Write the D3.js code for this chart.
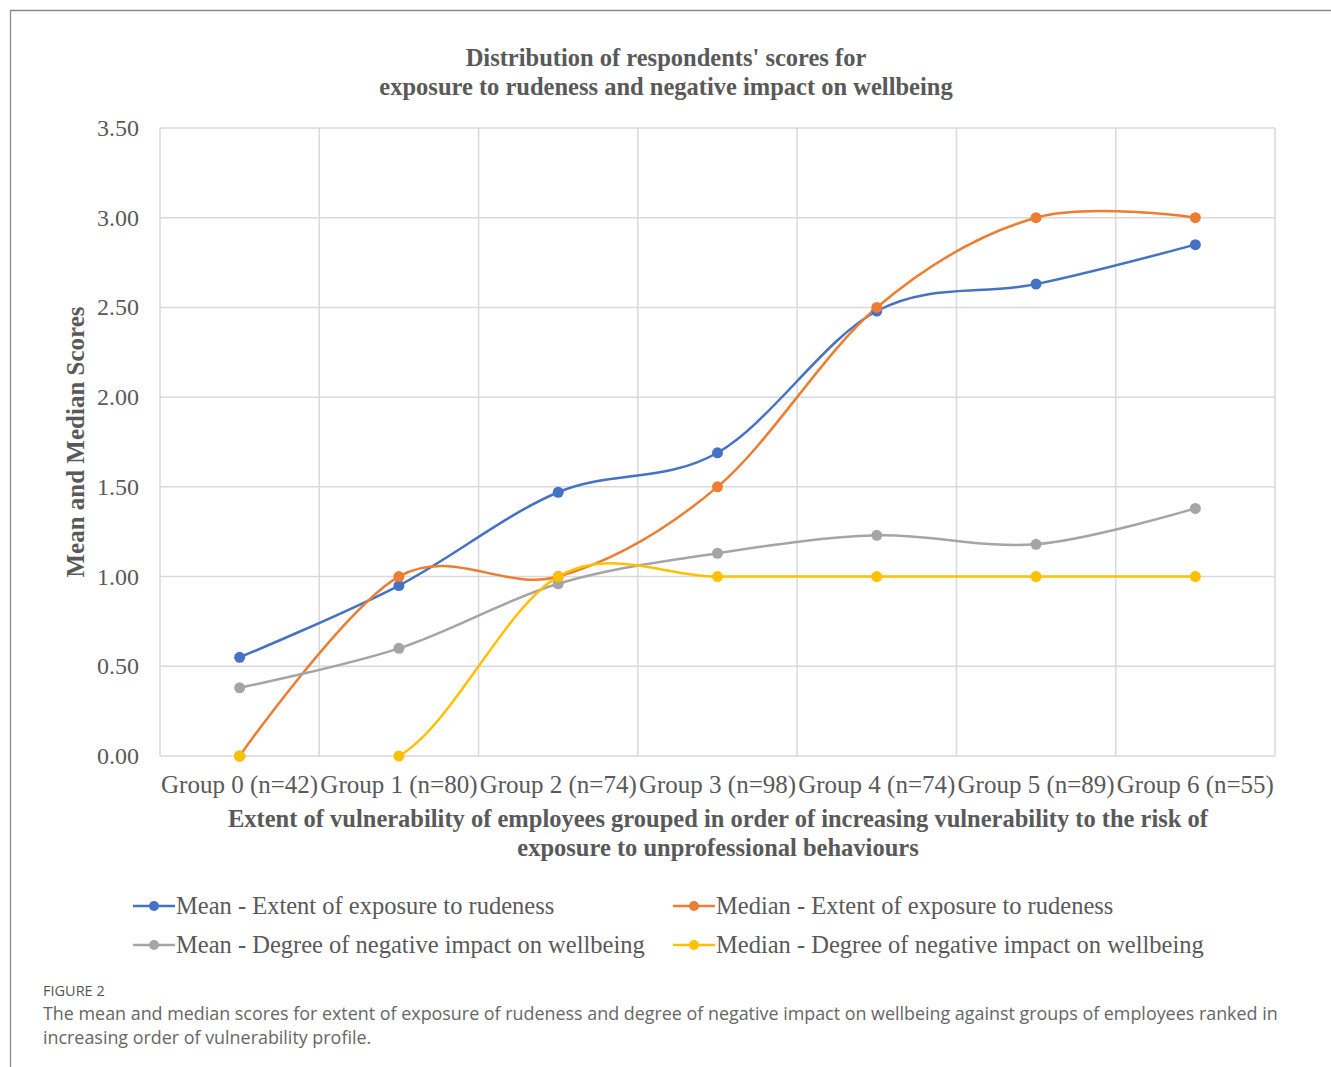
<!DOCTYPE html>
<html><head><meta charset="utf-8">
<script src="https://cdn.jsdelivr.net/npm/d3@7"></script>
<style>
body{margin:0;background:#fff;}
svg{display:block;}
</style></head>
<body>
<svg id="chart" width="1331" height="1067"></svg>
<script>
const categories = ["Group 0 (n=42)","Group 1 (n=80)","Group 2 (n=74)","Group 3 (n=98)","Group 4 (n=74)","Group 5 (n=89)","Group 6 (n=55)"];
const meanRudeness = [0.55, 0.95, 1.47, 1.69, 2.48, 2.63, 2.85];
const medianRudeness = [0, 1, 1, 1.5, 2.5, 3, 3];
const meanWellbeing = [0.38, 0.60, 0.96, 1.13, 1.23, 1.18, 1.38];
const medianWellbeing = [0, 0, 1, 1, 1, 1, 1];
const yTicks = [0, 0.5, 1, 1.5, 2, 2.5, 3, 3.5];
const seriesNames = ["Mean - Extent of exposure to rudeness","Median - Extent of exposure to rudeness","Mean - Degree of negative impact on wellbeing","Median - Degree of negative impact on wellbeing"];
const seriesColors = ["#4472C4","#ED7D31","#A5A5A5","#FFC000"];
const seriesValues = [meanRudeness, medianRudeness, meanWellbeing, medianWellbeing];

const svg = d3.select("#chart");
const serif = "'Liberation Serif','Times New Roman',serif";
const textCol = "#595959";

// outer frame
svg.append("path").attr("d","M10.5,1067 L10.5,10.5 L1331,10.5").attr("fill","none").attr("stroke","#8a8a8a").attr("stroke-width",1.3);

const L = 160, R = 1275, T = 128, B = 756;
const x = d3.scaleBand().domain(categories).range([L, R]).padding(0);
const y = d3.scaleLinear().domain([0, 3.5]).range([B, T]);
const cx = c => x(c) + x.bandwidth()/2;

svg.append("defs").append("clipPath").attr("id","plotclip")
  .append("rect").attr("x", L).attr("y", T - 10).attr("width", R - L).attr("height", B - T + 11);

// title
svg.append("text").attr("x", 666).attr("y", 66).attr("text-anchor","middle")
  .attr("font-family", serif).attr("font-weight","bold").attr("font-size", 24.5).attr("fill", textCol)
  .text("Distribution of respondents' scores for");
svg.append("text").attr("x", 666).attr("y", 95).attr("text-anchor","middle")
  .attr("font-family", serif).attr("font-weight","bold").attr("font-size", 24.5).attr("fill", textCol)
  .text("exposure to rudeness and negative impact on wellbeing");

// horizontal gridlines
const g = svg.append("g");
g.selectAll("line.h").data(yTicks).enter().append("line")
  .attr("x1", L).attr("x2", R).attr("y1", d => y(d)).attr("y2", d => y(d))
  .attr("stroke","#d9d9d9").attr("stroke-width",1.5);
// vertical gridlines (band boundaries)
const bounds = categories.map(c => x(c)).concat([R]);
g.selectAll("line.v").data(bounds).enter().append("line")
  .attr("x1", d => d).attr("x2", d => d).attr("y1", T).attr("y2", B)
  .attr("stroke","#d9d9d9").attr("stroke-width",1.5);

// y ticks
svg.append("g").selectAll("text").data(yTicks).enter().append("text")
  .attr("x", 139).attr("y", d => y(d) + 8).attr("text-anchor","end")
  .attr("font-family", serif).attr("font-size", 24).attr("fill", textCol)
  .text(d => d3.format(".2f")(d));

// x ticks
svg.append("g").selectAll("text").data(categories).enter().append("text")
  .attr("x", d => cx(d)).attr("y", 793).attr("text-anchor","middle")
  .attr("font-family", serif).attr("font-size", 25).attr("fill", textCol)
  .text(d => d);

// axis titles
svg.append("text").attr("x", 718).attr("y", 827).attr("text-anchor","middle")
  .attr("font-family", serif).attr("font-weight","bold").attr("font-size", 24.5).attr("fill", textCol)
  .text("Extent of vulnerability of employees grouped in order of increasing vulnerability to the risk of");
svg.append("text").attr("x", 718).attr("y", 856).attr("text-anchor","middle")
  .attr("font-family", serif).attr("font-weight","bold").attr("font-size", 24.5).attr("fill", textCol)
  .text("exposure to unprofessional behaviours");
svg.append("text").attr("transform","translate(84,442) rotate(-90)").attr("text-anchor","middle")
  .attr("font-family", serif).attr("font-weight","bold").attr("font-size", 25).attr("fill", textCol)
  .text("Mean and Median Scores");

// lines (clipped to plot area)
const line = d3.line().x((d,i) => cx(categories[i])).y(d => y(d)).curve(d3.curveCardinal.tension(0));
const lineG = svg.append("g").attr("clip-path","url(#plotclip)");
seriesValues.forEach((vals, k) => {
  lineG.append("path").datum(vals).attr("d", line).attr("fill","none")
    .attr("stroke", seriesColors[k]).attr("stroke-width", 2.5);
});

seriesValues.forEach((vals, k) => {
  svg.append("g").selectAll("circle").data(vals).enter().append("circle")
    .attr("cx", (d,i) => cx(categories[i])).attr("cy", d => y(d)).attr("r", 5.5)
    .attr("fill", seriesColors[k]);
});

// legend
const legendPos = [[133, 906],[673, 906],[133, 945],[673, 945]];
seriesNames.forEach((name, k) => {
  const [lx, ly] = legendPos[k];
  const lg = svg.append("g");
  lg.append("line").attr("x1", lx).attr("x2", lx + 42).attr("y1", ly).attr("y2", ly)
    .attr("stroke", seriesColors[k]).attr("stroke-width", 2.5);
  lg.append("circle").attr("cx", lx + 21).attr("cy", ly).attr("r", 5).attr("fill", seriesColors[k]);
  lg.append("text").attr("x", lx + 43).attr("y", ly + 8)
    .attr("font-family", serif).attr("font-size", 24.5).attr("fill", textCol).text(name);
});

// caption
const sans = "'Open Sans','Lato',sans-serif";
svg.append("text").attr("x", 43).attr("y", 996).attr("font-family", sans).attr("font-size", 14.5)
  .attr("fill", "#555").text("FIGURE 2");
svg.append("text").attr("x", 43).attr("y", 1020).attr("font-family", sans).attr("font-size", 17.9)
  .attr("fill", "#666").text("The mean and median scores for extent of exposure of rudeness and degree of negative impact on wellbeing against groups of employees ranked in");
svg.append("text").attr("x", 43).attr("y", 1044).attr("font-family", sans).attr("font-size", 17.9)
  .attr("fill", "#666").text("increasing order of vulnerability profile.");
</script>
</body></html>
